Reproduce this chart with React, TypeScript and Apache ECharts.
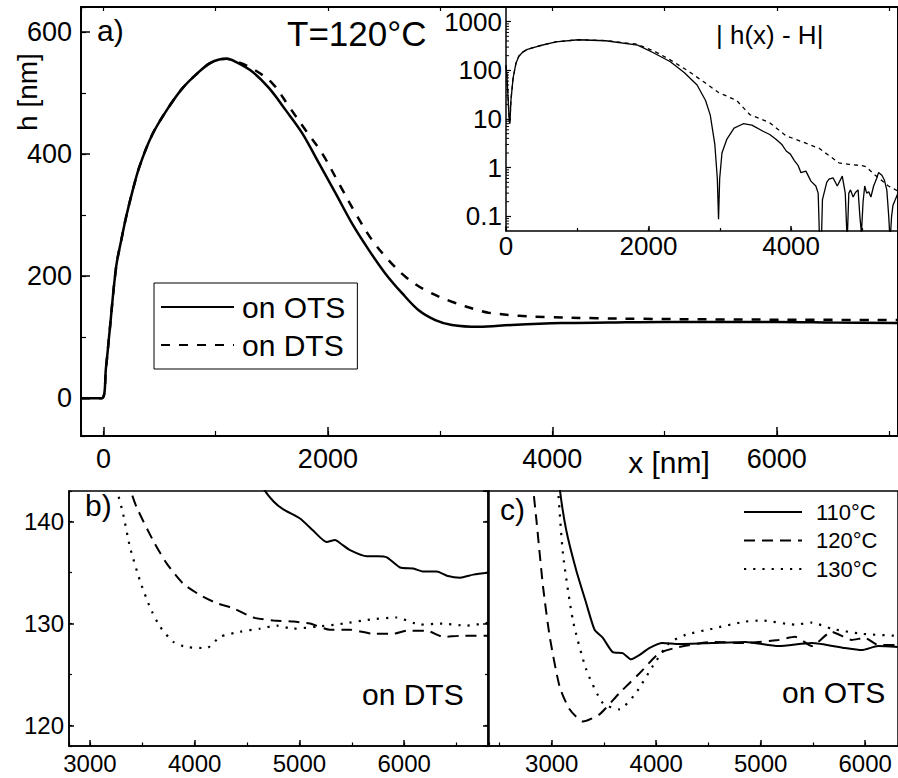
import React, { useEffect, useRef } from 'react';
import * as echarts from 'echarts';

const F = "'Liberation Sans', Arial, Helvetica, sans-serif";
const K = '#000';

// ---------- Panel a) : h(x) at T = 120°C ----------
const otsMain: [number, number][] = [
  [-200, 0], [-15, 0], [23, 51], [53, 106], [113, 215], [160, 260], [202, 297], [260, 340], [320, 379],
  [430, 430], [557, 470], [705, 508], [853, 535], [950, 549], [1031, 555], [1100, 556], [1180, 551],
  [1327, 535], [1476, 508], [1624, 472], [1772, 434], [1920, 385], [2068, 336], [2216, 286], [2364, 243],
  [2513, 204], [2661, 172], [2809, 144], [2957, 128], [3105, 120], [3342, 117], [3639, 120], [4083, 123],
  [4500, 124], [5000, 125], [5500, 125], [6000, 125], [6500, 124], [7080, 123],
];
const dtsMain: [number, number][] = [
  [-200, 0], [-15, 0], [23, 51], [53, 106], [113, 215], [160, 260], [202, 297], [260, 340], [320, 379],
  [430, 430], [557, 470], [705, 508], [853, 535], [950, 549], [1031, 555], [1100, 556], [1180, 552],
  [1327, 540], [1505, 516], [1653, 478], [1802, 439], [1949, 401], [2098, 352], [2246, 303], [2394, 259],
  [2542, 226], [2691, 199], [2868, 177], [3105, 158], [3342, 144], [3431, 140], [3700, 135], [3935, 133],
  [4400, 131], [4824, 130], [5500, 129], [6200, 128.5], [7080, 128],
];

// ---------- inset : |h(x) - H| ----------
const otsInset: [number, number][] = [
  [0, 124], [15, 70], [30, 25], [45, 9], [55, 8], [70, 25], [100, 70], [140, 140], [180, 195], [240, 240],
  [300, 270], [458, 316], [700, 385], [1014, 425], [1400, 405], [1847, 330], [2068, 230], [2306, 150],
  [2500, 90], [2681, 50], [2800, 24], [2866, 12], [2930, 3], [2965, 0.6], [2982, 0.087], [2998, 0.6],
  [3030, 2], [3097, 3.8], [3200, 6.5], [3329, 8], [3450, 7.5], [3607, 5.6], [3700, 4.8], [3792, 3.8],
  [3870, 3.0], [3931, 2.2], [3990, 1.9], [4046, 1.4], [4100, 1.1], [4139, 0.79], [4208, 0.85], [4278, 0.53],
  [4347, 0.42], [4380, 0.3], [4400, 0.03], [4425, 0.03], [4440, 0.22], [4500, 0.5], [4532, 0.58],
  [4588, 0.62], [4648, 0.42], [4718, 0.67], [4760, 0.3], [4787, 0.03], [4810, 0.3], [4834, 0.35],
  [4870, 0.25], [4903, 0.31], [4940, 0.35], [4965, 0.1], [4987, 0.045], [5010, 0.2], [5033, 0.42],
  [5060, 0.3], [5089, 0.32], [5120, 0.25], [5158, 0.42], [5200, 0.6], [5228, 0.8], [5274, 0.7],
  [5310, 0.55], [5343, 0.35], [5370, 0.1], [5389, 0.03], [5410, 0.1], [5430, 0.17], [5500, 0.3],
];
const dtsInset: [number, number][] = [
  [0, 128], [15, 75], [30, 28], [45, 10], [55, 9], [70, 25], [100, 70], [140, 140], [180, 195], [240, 240],
  [300, 270], [458, 316], [700, 385], [1014, 425], [1400, 408], [1847, 342], [2098, 240], [2310, 162],
  [2542, 100], [2774, 58], [2982, 35], [3236, 24], [3421, 12.3], [3699, 8.4], [3931, 4.5], [4069, 3.8],
  [4393, 2.5], [4671, 1.26], [4810, 1.17], [4996, 1.1], [5050, 1.05], [5181, 0.7], [5365, 0.42], [5500, 0.33],
];
const insetMinorTickValues: number[] = [
  0.06, 0.07, 0.08, 0.09, 0.2, 0.3, 0.4, 0.5, 0.6, 0.7, 0.8, 0.9, 2, 3, 4, 5, 6, 7, 8, 9,
  20, 30, 40, 50, 60, 70, 80, 90, 200, 300, 400, 500, 600, 700, 800, 900,
];

// ---------- Panel b) : on DTS ----------
const dts110: [number, number][] = [
  [4600, 145], [4655, 143.3], [4751, 142.0], [4846, 141.2], [5006, 140.3], [5133, 139.1], [5260, 138.0],
  [5340, 138.2], [5400, 137.8], [5483, 137.2], [5643, 136.6], [5750, 136.6], [5834, 136.5], [5961, 135.5],
  [6088, 135.4], [6184, 135.1], [6311, 135.1], [6407, 134.7], [6534, 134.5], [6661, 134.8], [6811, 135.0],
];
const dts120: [number, number][] = [
  [3340, 146], [3382, 143.3], [3446, 141.4], [3605, 138.1], [3732, 135.9], [3891, 133.9], [4051, 132.8],
  [4210, 132.0], [4369, 131.5], [4560, 130.6], [4751, 130.3], [4942, 130.2], [5101, 130.0], [5292, 129.4],
  [5483, 129.4], [5706, 129.0], [5897, 129.0], [6025, 129.3], [6216, 129.3], [6375, 128.7], [6534, 128.8],
  [6810, 128.8],
];
const dts130: [number, number][] = [
  [3230, 146], [3255, 143.3], [3318, 140.7], [3382, 137.5], [3478, 134.2], [3573, 131.6], [3669, 129.7],
  [3796, 128.2], [3923, 127.7], [4114, 127.6], [4242, 128.7], [4433, 129.2], [4624, 129.5], [4783, 129.8],
  [4942, 129.5], [5165, 129.7], [5420, 130.0], [5674, 130.4], [5929, 130.6], [6152, 129.9], [6343, 130.0],
  [6598, 129.8], [6810, 130.1],
];

// ---------- Panel c) : on OTS ----------
const ots110: [number, number][] = [
  [3060, 146], [3076, 143.3], [3140, 139.1], [3235, 135.2], [3330, 132.0], [3410, 129.4], [3489, 128.6],
  [3584, 127.2], [3679, 127.1], [3759, 126.5], [3838, 126.9], [3933, 127.6], [4060, 128.1], [4219, 128.0],
  [4536, 128.1], [4854, 128.2], [5171, 127.8], [5489, 128.1], [5806, 127.6], [5965, 127.4], [6124, 127.8],
  [6314, 127.7],
];
const ots120: [number, number][] = [
  [2805, 146], [2822, 143.3], [2854, 140.1], [2917, 133.6], [2981, 128.7], [3076, 123.8], [3171, 121.6],
  [3298, 120.4], [3457, 121.1], [3648, 123.2], [3838, 125.1], [4029, 127.1], [4219, 127.7], [4536, 128.2],
  [4854, 128.1], [5171, 128.4], [5330, 128.7], [5489, 127.8], [5679, 129.2], [5870, 128.4], [5997, 128.6],
  [6124, 127.9], [6314, 127.9],
];
const ots130: [number, number][] = [
  [3040, 147], [3060, 143.3], [3108, 136.8], [3203, 130.3], [3330, 125.5], [3489, 122.2], [3648, 121.6],
  [3806, 123.2], [3965, 125.8], [4124, 128.1], [4283, 128.9], [4536, 129.5], [4854, 130.2], [5013, 130.3],
  [5330, 129.9], [5489, 130.1], [5679, 129.5], [5965, 129.0], [6314, 128.8],
];

const mainLegend = ['on OTS', 'on DTS'];
const tempLegend = ['110°C', '120°C', '130°C'];

const fmt = (v: number) => String(parseFloat(Number(v).toPrecision(6)));

function majorAxis(o: any) {
  return {
    type: 'value',
    splitLine: { show: false },
    axisLine: { show: true, onZero: false, lineStyle: { color: K, width: o.lw } },
    axisTick: { show: true, inside: o.tickInside !== false, length: o.tl, lineStyle: { color: K, width: 1.5 } },
    axisLabel: o.fs
      ? { show: true, showMinLabel: !!o.showMin, showMaxLabel: false, fontSize: o.fs, fontFamily: F, color: K, margin: o.margin, formatter: fmt }
      : { show: false },
    gridIndex: o.grid, position: o.position, min: o.min, max: o.max,
    ...(o.interval ? { interval: o.interval } : { minInterval: o.step, maxInterval: o.step }),
  };
}
function minorAxis(o: any) {
  return {
    type: 'value',
    gridIndex: o.grid, position: o.position, min: o.min, max: o.max,
    ...(o.interval ? { interval: o.interval } : { minInterval: o.step, maxInterval: o.step }),
    splitLine: { show: false },
    axisLine: { show: false, onZero: false },
    axisTick: { show: true, inside: o.tickInside !== false, length: o.tl, lineStyle: { color: K, width: 1.2 } },
    axisLabel: { show: false },
  };
}
function line(name: string, data: [number, number][], xi: number, yi: number, width: number, type: any, smooth: any = false) {
  return {
    type: 'line', name, data, xAxisIndex: xi, yAxisIndex: yi, symbol: 'none', showSymbol: false,
    smooth, clip: true, silent: true, z: 3,
    lineStyle: { color: K, width, type }, itemStyle: { color: K },
  };
}

function buildOption() {
  return {
    animation: false,
    backgroundColor: '#fff',
    grid: [
      { left: 81, top: 7, width: 819, height: 429, show: true, borderColor: K, borderWidth: 2, backgroundColor: 'transparent' },
      { left: 506, top: 7, width: 394, height: 224, show: false },
      { left: 69, top: 491, width: 420, height: 255, show: true, borderColor: K, borderWidth: 1.5, backgroundColor: 'transparent' },
      { left: 488, top: 491, width: 412, height: 255, show: true, borderColor: K, borderWidth: 1.5, backgroundColor: 'transparent' },
    ],
    xAxis: [
      majorAxis({ grid: 0, position: 'bottom', min: -200, max: 7080, step: 2000, lw: 2, tl: 9, fs: 27, margin: 9 }),
      minorAxis({ grid: 0, position: 'bottom', min: -200, max: 7080, step: 1000, tl: 5 }),
      minorAxis({ grid: 0, position: 'top', min: -200, max: 7080, step: 1000, tl: 4 }),
      majorAxis({ grid: 1, position: 'bottom', min: 0, max: 5500, interval: 2000, lw: 1.5, tl: 5, fs: 26, margin: 2, showMin: true }),
      minorAxis({ grid: 1, position: 'bottom', min: 0, max: 5500, interval: 1000, tl: 3 }),
      majorAxis({ grid: 2, position: 'bottom', min: 2800, max: 6810, step: 1000, lw: 1.5, tl: 6, fs: 24, margin: 5 }),
      minorAxis({ grid: 2, position: 'bottom', min: 2800, max: 6810, step: 500, tl: 3.5 }),
      majorAxis({ grid: 3, position: 'bottom', min: 2390, max: 6314, step: 1000, lw: 1.5, tl: 6, fs: 24, margin: 5 }),
      minorAxis({ grid: 3, position: 'bottom', min: 2390, max: 6314, step: 500, tl: 3.5 }),
    ],
    yAxis: [
      majorAxis({ grid: 0, position: 'left', min: -62, max: 641, step: 200, lw: 2, tl: 9, fs: 27, margin: 9 }),
      minorAxis({ grid: 0, position: 'left', min: -62, max: 641, step: 100, tl: 5 }),
      {
        type: 'log', logBase: 10, gridIndex: 1, position: 'left', min: 0.05, max: 2000,
        splitLine: { show: false },
        axisLine: { show: true, onZero: false, lineStyle: { color: K, width: 1.5 } },
        axisTick: { show: true, inside: true, length: 5, lineStyle: { color: K, width: 1.2 } },
        axisLabel: { show: true, showMinLabel: false, showMaxLabel: false, fontSize: 26, fontFamily: F, color: K, margin: 4, formatter: fmt },
      },
      majorAxis({ grid: 2, position: 'left', min: 118, max: 143, step: 10, lw: 1.5, tl: 5, fs: 24, margin: 5 }),
      minorAxis({ grid: 2, position: 'left', min: 118, max: 143, step: 5, tl: 3 }),
      majorAxis({ grid: 3, position: 'left', min: 118, max: 143, step: 10, lw: 1.5, tl: 5, tickInside: false }),
      minorAxis({ grid: 3, position: 'left', min: 118, max: 143, step: 5, tl: 3, tickInside: false }),
    ],
    legend: [
      {
        data: mainLegend, orient: 'vertical', left: 154, top: 283, selectedMode: false,
        itemWidth: 73, itemHeight: 30, itemGap: 8, padding: [9, 12, 9, 6],
        borderColor: K, borderWidth: 1, backgroundColor: '#fff',
        itemStyle: { opacity: 0 },
        textStyle: { fontSize: 30, fontFamily: F, color: K, padding: [0, 0, 0, 3] },
      },
      {
        data: tempLegend, orient: 'vertical', left: 743, top: 501, selectedMode: false,
        itemWidth: 58, itemHeight: 20, itemGap: 6.5, padding: 0,
        itemStyle: { opacity: 0 },
        textStyle: { fontSize: 22, fontFamily: F, color: K, padding: [0, 0, 0, 9] },
      },
    ],
    graphic: [
      { type: 'text', x: 97, y: 30, style: { text: 'a)', font: `30px ${F}`, fill: K, textAlign: 'left', textVerticalAlign: 'middle' } },
      { type: 'text', x: 287, y: 33.5, style: { text: 'T=120°C', font: `35px ${F}`, fill: K, textAlign: 'left', textVerticalAlign: 'middle' } },
      { type: 'text', x: 27, y: 92, rotation: Math.PI / 2, style: { text: 'h [nm]', font: `28px ${F}`, fill: K, textAlign: 'center', textVerticalAlign: 'middle' } },
      { type: 'text', x: 716, y: 35, style: { text: '| h(x) - H|', font: `26px ${F}`, fill: K, textAlign: 'left', textVerticalAlign: 'middle' } },
      { type: 'text', x: 669, y: 462, style: { text: 'x [nm]', font: `30px ${F}`, fill: K, textAlign: 'center', textVerticalAlign: 'middle' } },
      { type: 'text', x: 85, y: 505, style: { text: 'b)', font: `30px ${F}`, fill: K, textAlign: 'left', textVerticalAlign: 'middle' } },
      { type: 'text', x: 500, y: 509, style: { text: 'c)', font: `30px ${F}`, fill: K, textAlign: 'left', textVerticalAlign: 'middle' } },
      { type: 'text', x: 362, y: 694, style: { text: 'on DTS', font: `30px ${F}`, fill: K, textAlign: 'left', textVerticalAlign: 'middle' } },
      { type: 'text', x: 782, y: 692, style: { text: 'on OTS', font: `30px ${F}`, fill: K, textAlign: 'left', textVerticalAlign: 'middle' } },
    ],
    series: [
      line('on OTS', otsMain, 0, 0, 2.5, 'solid', 0.35),
      line('on DTS', dtsMain, 0, 0, 2.5, [9, 9], 0.35),
      line('ots |h-H|', otsInset, 3, 2, 1.3, 'solid'),
      line('dts |h-H|', dtsInset, 3, 2, 1.3, [4, 4]),
      {
        type: 'custom', name: 'log minor ticks', xAxisIndex: 3, yAxisIndex: 2, silent: true, clip: false,
        data: insetMinorTickValues.map((v) => [0, v]),
        renderItem: (_p: any, api: any) => {
          const pt = api.coord([0, api.value(1)]);
          return { type: 'line', shape: { x1: pt[0], y1: pt[1], x2: pt[0] + 3, y2: pt[1] }, style: { stroke: K, lineWidth: 1 } };
        },
      },
      line('110°C', dts110, 5, 3, 2, 'solid', 0.2),
      line('120°C', dts120, 5, 3, 2, [11, 7], 0.2),
      line('130°C', dts130, 5, 3, 2.2, [2.2, 7], 0.2),
      line('110°C', ots110, 7, 5, 2, 'solid', 0.2),
      line('120°C', ots120, 7, 5, 2, [11, 7], 0.2),
      line('130°C', ots130, 7, 5, 2.2, [2.2, 7], 0.2),
    ],
  };
}

export default function App() {
  const ref = useRef<HTMLDivElement>(null);
  useEffect(() => {
    if (!ref.current) return;
    const chart = echarts.init(ref.current, undefined, { renderer: 'svg', width: 898, height: 778 });
    chart.setOption(buildOption() as any);
    return () => chart.dispose();
  }, []);
  return <div ref={ref} style={{ position: 'absolute', left: 0, top: 0, width: 898, height: 778, background: '#fff' }} />;
}
